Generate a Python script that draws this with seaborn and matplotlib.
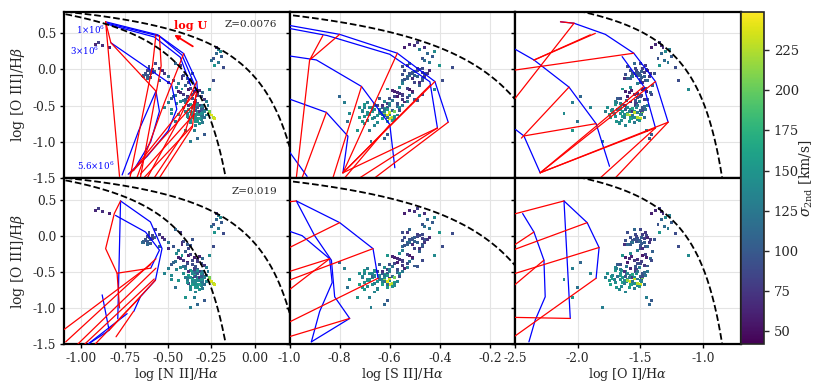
"""
BPT diagrams (NII, SII, OI) with photoionisation model grids for two
metallicities, spaxels coloured by the second-component velocity dispersion.
Output: out.png
"""

import matplotlib
matplotlib.use('Agg')
import matplotlib.pyplot as plt
import numpy as np
import pandas as pd
import seaborn as sns

# ---- spaxel line ratios (log) and sigma_2nd [km/s] ----
LOG_N2 = [-0.63, -0.62, -0.61, -0.64, -0.60, -0.62, -0.59, -0.63, -0.58, -0.61, -0.65, -0.60,
          -0.55, -0.52, -0.50, -0.47, -0.44, -0.42, -0.40, -0.45, -0.38, -0.53,
          -0.22, -0.20, -0.24, -0.21, -0.23, -0.19, -0.25, -0.18,
          -0.92, -0.88, -0.84, -0.90,
          -0.44, -0.41, -0.38, -0.36, -0.33, -0.40, -0.35, -0.31, -0.43, -0.37,
          -0.30, -0.39, -0.34, -0.42, -0.29, -0.32, -0.46, -0.36, -0.28, -0.48,
          -0.36, -0.34, -0.33, -0.35, -0.32, -0.37, -0.31, -0.34, -0.38, -0.30,
          -0.33, -0.36, -0.35, -0.32, -0.29, -0.37, -0.34, -0.31, -0.39, -0.33,
          -0.35, -0.30, -0.36, -0.32, -0.34, -0.41, -0.38, -0.28, -0.35, -0.33,
          -0.37, -0.31, -0.40, -0.36, -0.32, -0.34, -0.30, -0.38, -0.35, -0.33,
          -0.26, -0.25, -0.24, -0.27, -0.23, -0.26,
          -0.35, -0.33, -0.37, -0.29, -0.50, -0.48, -0.46, -0.40, -0.47, -0.52,
          -0.26, -0.24, -0.21, -0.22,
          -0.41, -0.43, -0.39, -0.57, -0.55, -0.36,
          -0.31, -0.29, -0.33, -0.36, -0.30, -0.34, -0.37, -0.31, -0.35, -0.28,
          -0.39, -0.32, -0.36, -0.34, -0.30, -0.33, -0.38, -0.35, -0.31, -0.29,
          -0.62, -0.60, -0.63, -0.59, -0.61, -0.64, -0.42, -0.46, -0.50, -0.37,
          -0.43, -0.39, -0.35, -0.41, -0.33, -0.45, -0.48, -0.44, -0.40, -0.27]
LOG_S2 = [-0.52, -0.50, -0.54, -0.49, -0.51, -0.53, -0.48, -0.55, -0.50, -0.47, -0.52, -0.46,
          -0.49, -0.45, -0.53, -0.47, -0.55, -0.51, -0.48, -0.56, -0.50, -0.44,
          -0.45, -0.42, -0.47, -0.44, -0.40, -0.43, -0.46, -0.35,
          -0.52, -0.50, -0.54, -0.49,
          -0.58, -0.55, -0.52, -0.60, -0.56, -0.50, -0.54, -0.58, -0.62, -0.53,
          -0.51, -0.57, -0.49, -0.61, -0.55, -0.59, -0.52, -0.47, -0.53, -0.64,
          -0.66, -0.64, -0.62, -0.68, -0.60, -0.70, -0.63, -0.58, -0.66, -0.61,
          -0.67, -0.63, -0.71, -0.65, -0.59, -0.69, -0.61, -0.66, -0.64, -0.57,
          -0.62, -0.68, -0.60, -0.70, -0.66, -0.72, -0.59, -0.62, -0.65, -0.63,
          -0.67, -0.58, -0.69, -0.72, -0.64, -0.60, -0.65, -0.61, -0.57, -0.69,
          -0.60, -0.61, -0.59, -0.62, -0.60, -0.58,
          -0.68, -0.62, -0.675, -0.61, -0.78, -0.76, -0.77, -0.73, -0.80, -0.70,
          -0.42, -0.39, -0.48, -0.46,
          -0.50, -0.53, -0.47, -0.52, -0.55, -0.46,
          -0.56, -0.64, -0.66, -0.69, -0.62, -0.59, -0.65, -0.67, -0.61, -0.57,
          -0.70, -0.63, -0.67, -0.56, -0.60, -0.71, -0.63, -0.58, -0.69, -0.61,
          -0.49, -0.53, -0.51, -0.47, -0.55, -0.50, -0.46, -0.52, -0.48, -0.54,
          -0.57, -0.53, -0.51, -0.59, -0.55, -0.60, -0.66, -0.68, -0.71, -0.55]
LOG_O1 = [-1.55, -1.50, -1.58, -1.47, -1.52, -1.60, -1.45, -1.62, -1.49, -1.54, -1.57, -1.51,
          -1.48, -1.42, -1.56, -1.46, -1.52, -1.63, -1.40, -1.58, -1.50, -1.44,
          -1.33, -1.30, -1.36, -1.28, -1.35, -1.25, -1.31, -1.22,
          -1.38, -1.33, -1.41, -1.35,
          -1.62, -1.55, -1.48, -1.66, -1.52, -1.44, -1.58, -1.50, -1.70, -1.46,
          -1.42, -1.60, -1.54, -1.64, -1.47, -1.57, -1.49, -1.41, -1.51, -1.68,
          -1.62, -1.58, -1.55, -1.66, -1.60, -1.70, -1.52, -1.64, -1.68, -1.48,
          -1.57, -1.61, -1.73, -1.54, -1.50, -1.65, -1.59, -1.63, -1.71, -1.53,
          -1.56, -1.60, -1.49, -1.67, -1.62, -1.76, -1.55, -1.46, -1.58, -1.61,
          -1.64, -1.52, -1.69, -1.74, -1.57, -1.50, -1.55, -1.66, -1.47, -1.63,
          -1.55, -1.58, -1.52, -1.60, -1.50, -1.48,
          -1.45, -1.43, -1.80, -1.41, -2.04, -2.11, -2.00, -2.04, -1.98, -1.90,
          -1.12, -1.20, -1.27, -1.32,
          -1.53, -1.46, -1.58, -1.50, -1.44, -1.39,
          -1.53, -1.59, -1.65, -1.72, -1.56, -1.51, -1.67, -1.62, -1.54, -1.49,
          -1.70, -1.58, -1.60, -1.48, -1.52, -1.69, -1.63, -1.55, -1.66, -1.47,
          -1.53, -1.49, -1.56, -1.47, -1.60, -1.51, -1.43, -1.55, -1.48, -1.50,
          -1.59, -1.52, -1.45, -1.61, -1.49, -1.66, -1.72, -1.75, -1.78, -1.44]
LOG_O3 = [-0.05, -0.08, -0.02, -0.10, -0.04, -0.12, 0.00, -0.07, -0.03, 0.02, -0.09, -0.06,
          0.02, -0.05, -0.10, -0.15, -0.20, -0.12, -0.22, -0.25, -0.18, -0.02,
          0.22, 0.25, 0.15, 0.10, 0.05, 0.18, 0.12, 0.03,
          0.35, 0.33, 0.30, 0.37,
          -0.30, -0.35, -0.28, -0.40, -0.33, -0.42, -0.45, -0.38, -0.44, -0.26,
          -0.32, -0.37, -0.43, -0.27, -0.41, -0.29, -0.36, -0.34, -0.44, -0.40,
          -0.50, -0.55, -0.58, -0.52, -0.62, -0.48, -0.60, -0.65, -0.56, -0.53,
          -0.68, -0.63, -0.57, -0.50, -0.57, -0.70, -0.72, -0.66, -0.61, -0.47,
          -0.54, -0.61, -0.59, -0.75, -0.78, -0.52, -0.66, -0.55, -0.64, -0.53,
          -0.58, -0.69, -0.46, -0.67, -0.58, -0.62, -0.73, -0.55, -0.51, -0.62,
          -0.60, -0.63, -0.66, -0.62, -0.68, -0.58,
          -0.85, -0.95, -1.00, -0.90, -0.46, -0.61, -0.72, -0.85, -0.37, -0.52,
          -0.28, -0.15, 0.28, 0.30,
          -0.08, 0.05, -0.12, 0.08, -0.15, -0.05,
          -0.52, -0.58, -0.48, -0.60, -0.64, -0.70, -0.74, -0.56, -0.47, -0.63,
          -0.65, -0.68, -0.53, -0.57, -0.50, -0.72, -0.50, -0.66, -0.61, -0.67,
          -0.01, -0.11, -0.06, -0.04, 0.04, -0.08, -0.10, 0.08, -0.18, -0.14,
          -0.32, -0.39, -0.30, -0.43, -0.36, -0.47, -0.55, -0.62, -0.58, -0.50]
SIGMA_2ND = [95, 100, 90, 105, 98, 110, 85, 92, 102, 88, 115, 96,
             80, 75, 120, 95, 130, 70, 105, 140, 85, 65,
             110, 140, 95, 125, 150, 100, 115, 90,
             65, 70, 60, 80,
             60, 75, 55, 90, 70, 100, 65, 85, 140, 80,
             110, 58, 95, 150, 75, 62, 120, 88, 130, 100,
             140, 135, 150, 145, 130, 155, 125, 160, 120, 95,
             145, 135, 150, 80, 110, 140, 155, 130, 125, 90,
             165, 140, 70, 150, 135, 145, 85, 120, 145, 100,
             150, 135, 130, 160, 75, 140, 125, 155, 110, 140,
             230, 240, 225, 215, 235, 205,
             130, 110, 130, 100, 130, 140, 120, 150, 110, 135,
             140, 90, 130, 70,
             90, 75, 100, 85, 110, 95,
             140, 130, 145, 155, 120, 150, 140, 100, 80, 135,
             145, 160, 135, 90, 125, 150, 70, 140, 145, 115,
             85, 100, 95, 80, 90, 105, 75, 110, 70, 95,
             65, 90, 60, 120, 80, 135, 140, 150, 130, 125]

SIGMA_RANGE = (42, 249)

# ---- demarcation curves: y = a / (x - b) + c ----
KAUFFMANN_N2 = (0.61, 0.05, 1.30)
KEWLEY_N2 = (0.61, 0.47, 1.19)
KEWLEY_S2 = (0.72, 0.32, 1.30)
KEWLEY_O1 = (0.73, -0.59, 1.33)

# ---- model grids, Z = 0.0076 ----
N2_LOWZ_BLUE = [
    [(-0.86, 0.66), (-0.56, 0.48), (-0.41, 0.22), (-0.335, -0.17), (-0.33, -0.30)],
    [(-0.85, 0.64), (-0.55, 0.46), (-0.42, 0.20), (-0.35, -0.20), (-0.34, -0.32)],
    [(-0.84, 0.62), (-0.58, 0.45), (-0.43, 0.17), (-0.37, -0.22)],
    [(-0.83, 0.37), (-0.48, -0.21), (-0.45, -0.55), (-0.50, -0.85), (-0.62, -1.20), (-0.73, -1.45)],
    [(-0.765, -1.46), (-0.67, -0.85), (-0.57, -0.30), (-0.55, -0.58), (-0.60, -1.00), (-0.70, -1.40)],
]
N2_LOWZ_RED = [
    [(-0.86, 0.66), (-0.78, -1.48)],
    [(-0.86, 0.66), (-0.83, 0.37), (-0.57, -0.30)],
    [(-0.57, 0.48), (-0.59, 0.05), (-0.72, -1.50)],
    [(-0.55, 0.47), (-0.54, 0.05), (-0.66, -1.50)],
    [(-0.41, 0.22), (-0.52, -0.45), (-0.68, -1.50)],
    [(-0.335, -0.17), (-0.45, -0.75), (-0.62, -1.50)],
    [(-0.33, -0.30), (-0.40, -0.85), (-0.58, -1.50)],
    [(-0.34, -0.35), (-0.36, -0.80), (-0.55, -1.50)],
    [(-0.72, -1.45), (-0.33, -0.28)],
    [(-0.70, -1.40), (-0.34, -0.45)],
    [(-0.66, -1.45), (-0.35, -0.62)],
    [(-0.64, -1.50), (-0.36, -0.78)],
]
S2_LOWZ_BLUE = [
    [(-1.05, 0.64), (-0.80, 0.486), (-0.57, 0.225), (-0.42, -0.167), (-0.367, -0.73)],
    [(-1.05, 0.60), (-0.85, 0.47), (-0.60, 0.21), (-0.44, -0.17), (-0.41, -0.81)],
    [(-1.00, 0.187), (-0.893, 0.132), (-0.713, -0.235), (-0.60, -0.763), (-0.58, -1.36)],
    [(-1.00, -0.41), (-0.853, -0.594), (-0.767, -0.924), (-0.787, -1.43)],
    [(-1.05, -0.90), (-0.93, -1.48)],
]
S2_LOWZ_RED = [
    [(-0.867, 0.47), (-0.92, 0.13), (-0.80, 0.486)],
    [(-0.92, 0.13), (-0.973, -1.50)],
    [(-0.57, 0.225), (-0.787, -1.43)],
    [(-0.787, -1.43), (-0.42, -0.167)],
    [(-0.787, -1.43), (-0.44, -0.22)],
    [(-0.787, -1.43), (-0.41, -0.81)],
    [(-0.713, -0.235), (-0.827, -1.50)],
    [(-0.367, -0.73), (-0.66, -1.50)],
    [(-0.41, -0.81), (-0.72, -1.50)],
    [(-0.853, -0.594), (-0.95, -1.50)],
    [(-0.60, -0.763), (-0.78, -1.50)],
]
O1_LOWZ_BLUE = [
    [(-2.138, 0.66), (-2.03, 0.64), (-1.78, 0.486), (-1.553, 0.225), (-1.38, -0.167), (-1.279, -0.73)],
    [(-2.52, 0.30), (-2.35, 0.132), (-2.07, -0.244), (-1.854, -0.75), (-1.747, -1.34)],
    [(-1.646, 0.178), (-1.473, -0.235), (-1.38, -0.81)],
    [(-2.497, -0.83), (-2.43, -0.92), (-2.30, -1.43)],
]
O1_LOWZ_RED = [
    [(-2.138, 0.66), (-2.03, 0.64)],
    [(-2.03, 0.64), (-2.50, -0.40)],
    [(-2.35, 0.13), (-1.90, 0.48)],
    [(-2.35, 0.13), (-1.86, 0.50)],
    [(-2.55, -0.02), (-1.553, 0.225)],
    [(-2.30, -1.43), (-1.38, -0.167)],
    [(-2.30, -1.43), (-1.279, -0.73)],
    [(-2.30, -1.43), (-1.473, -0.235)],
    [(-2.30, -1.43), (-1.38, -0.81)],
    [(-1.82, -1.50), (-1.38, -0.81)],
    [(-1.70, -1.50), (-1.279, -0.73)],
    [(-2.07, -0.244), (-2.45, -0.95)],
    [(-2.43, -0.92), (-1.854, -0.75)],
]

# ---- model grids, Z = 0.019 ----
N2_HIGHZ_BLUE = [
    [(-0.774, 0.48), (-0.602, 0.19), (-0.535, -0.178), (-0.573, -0.616), (-0.66, -0.847), (-0.698, -1.05)],
    [(-0.774, 0.48), (-0.79, -1.15)],
    [(-0.803, 0.28), (-0.63, 0.05), (-0.55, -0.20), (-0.60, -0.45)],
    [(-0.88, -0.82), (-0.84, -1.31), (-0.96, -1.50)],
    [(-0.956, -1.49), (-0.736, -1.08)],
]
N2_HIGHZ_RED = [
    [(-0.774, 0.48), (-0.81, 0.306), (-0.86, -0.18), (-0.794, -0.52), (-0.78, -1.00)],
    [(-1.09, -1.47), (-0.57, -0.32)],
    [(-1.02, -1.50), (-0.57, -0.45)],
    [(-0.98, -1.50), (-0.58, -0.60)],
    [(-0.92, -1.50), (-0.66, -0.85)],
    [(-0.84, -1.31), (-0.573, -0.616)],
    [(-0.80, -1.40), (-0.70, -1.05)],
    [(-0.794, -0.52), (-0.60, -0.45)],
    [(-1.10, -1.30), (-0.60, -0.40)],
]
S2_HIGHZ_BLUE = [
    [(-0.973, 0.48), (-0.80, 0.18), (-0.667, -0.18), (-0.647, -0.59)],
    [(-0.973, 0.48), (-0.90, 0.00), (-0.833, -0.34), (-0.82, -0.847), (-0.76, -1.146), (-0.913, -1.47)],
    [(-1.00, 0.06), (-0.95, 0.00), (-0.84, -0.32), (-0.83, -0.65), (-0.88, -1.05), (-0.913, -1.47)],
]
S2_HIGHZ_RED = [
    [(-1.05, 0.45), (-0.973, 0.48)],
    [(-1.05, -0.25), (-0.80, 0.18)],
    [(-1.05, -0.68), (-0.667, -0.18)],
    [(-1.05, -0.88), (-0.84, -0.32)],
    [(-1.05, -0.55), (-0.84, -0.32)],
    [(-1.05, -1.28), (-0.647, -0.59)],
    [(-1.05, -1.45), (-0.76, -1.146)],
]
O1_HIGHZ_BLUE = [
    [(-2.11, 0.48), (-1.925, 0.18), (-1.83, -0.164), (-1.854, -0.59)],
    [(-2.11, 0.48), (-2.06, -1.146)],
    [(-2.44, 0.306), (-2.35, 0.05), (-2.27, -0.34), (-2.26, -0.847), (-2.34, -1.17), (-2.39, -1.47)],
]
O1_HIGHZ_RED = [
    [(-2.55, 0.28), (-2.11, 0.48)],
    [(-2.55, -0.18), (-2.35, 0.05)],
    [(-2.55, -0.22), (-1.925, 0.18)],
    [(-2.55, -0.55), (-1.83, -0.164)],
    [(-2.55, -0.75), (-2.27, -0.34)],
    [(-2.55, -1.13), (-2.06, -1.146)],
    [(-2.55, -1.45), (-1.854, -0.59)],
]

# ---- axes ----
X_LIMS = [(-1.1, 0.2), (-1.0, -0.1), (-2.5, -0.7)]
X_TICKS = [[-1.0, -0.75, -0.5, -0.25, 0.0], [-1.0, -0.8, -0.6, -0.4, -0.2], [-2.5, -2.0, -1.5, -1.0]]
X_TICKLABELS = [['-1.00', '-0.75', '-0.50', '-0.25', '0.00'],
                ['-1.0', '-0.8', '-0.6', '-0.4', '-0.2'],
                ['-2.5', '-2.0', '-1.5', '-1.0']]
X_LABELS = [r'log [N II]/H$\alpha$', r'log [S II]/H$\alpha$', r'log [O I]/H$\alpha$']
Y_LIM = (-1.5, 0.8)
Y_TICKS = [0.5, 0.0, -0.5, -1.0, -1.5]
Y_TICKLABELS = ['0.5', '0.0', '-0.5', '-1.0', '-1.5']
CBAR_TICKS = [50, 75, 100, 125, 150, 175, 200, 225]


def draw_curve(ax, coeffs, xmin, xmax):
    a, b, c = coeffs
    x = np.linspace(xmin, min(xmax, b - 0.01), 400)
    ax.plot(x, a / (x - b) + c, ls='--', color='black', lw=1.3, zorder=4)


def draw_grid(ax, blue, red):
    for line in blue:
        xs, ys = zip(*line)
        ax.plot(xs, ys, color='#0000ff', lw=0.9, zorder=3)
    for line in red:
        xs, ys = zip(*line)
        ax.plot(xs, ys, color='#ff0000', lw=0.9, zorder=3)


def main():
    sns.set_style('ticks')
    plt.rcParams['font.family'] = ['DejaVu Serif']
    plt.rcParams['mathtext.fontset'] = 'dejavuserif'
    plt.rcParams['axes.unicode_minus'] = False

    df = pd.DataFrame({'n2': LOG_N2, 's2': LOG_S2, 'o1': LOG_O1,
                       'o3': LOG_O3, 'sig': SIGMA_2ND})
    xcols = ['n2', 's2', 'o1']

    fig = plt.figure(figsize=(8.3, 3.83), dpi=100)
    gs = fig.add_gridspec(2, 3, left=0.0771, right=0.8924, bottom=0.1018,
                          top=0.9695, wspace=0, hspace=0)

    grids = [[(N2_LOWZ_BLUE, N2_LOWZ_RED), (S2_LOWZ_BLUE, S2_LOWZ_RED), (O1_LOWZ_BLUE, O1_LOWZ_RED)],
             [(N2_HIGHZ_BLUE, N2_HIGHZ_RED), (S2_HIGHZ_BLUE, S2_HIGHZ_RED), (O1_HIGHZ_BLUE, O1_HIGHZ_RED)]]

    axes = [[None] * 3 for _ in range(2)]
    for r in range(2):
        for c in range(3):
            ax = fig.add_subplot(gs[r, c])
            axes[r][c] = ax
            xmin, xmax = X_LIMS[c]

            sns.scatterplot(data=df, x=xcols[c], y='o3', hue='sig', palette='viridis',
                            hue_norm=SIGMA_RANGE, s=4.5, marker='s', linewidth=0,
                            legend=False, ax=ax, zorder=2)
            draw_grid(ax, *grids[r][c])

            if c == 0:
                draw_curve(ax, KAUFFMANN_N2, xmin - 0.1, xmax)
                draw_curve(ax, KEWLEY_N2, xmin - 0.1, xmax)
            elif c == 1:
                draw_curve(ax, KEWLEY_S2, xmin - 0.1, xmax)
            else:
                draw_curve(ax, KEWLEY_O1, xmin - 0.1, xmax)

            ax.set_xlim(xmin, xmax)
            ax.set_ylim(*Y_LIM)
            ax.set_xticks(X_TICKS[c])
            ax.set_yticks(Y_TICKS)
            ax.grid(True, color='#e4e4e4', lw=0.8, zorder=0)
            ax.set_axisbelow(True)
            for sp in ax.spines.values():
                sp.set_linewidth(1.6)
                sp.set_color('black')
            ax.tick_params(labelsize=8.8, width=1, length=3, pad=2.5, color='black')

            if r == 1:
                ax.set_xticklabels(X_TICKLABELS[c])
                ax.set_xlabel(X_LABELS[c], fontsize=9.2, labelpad=1)
            else:
                ax.set_xticklabels([])
                ax.set_xlabel('')
            if c == 0:
                ax.set_yticklabels(Y_TICKLABELS)
                ax.set_ylabel(r'log [O III]/H$\beta$', fontsize=10, labelpad=4)
            else:
                ax.set_yticklabels([])
                ax.set_ylabel('')

    # annotations
    ax = axes[0][0]
    ax.text(0.945, 0.925, 'Z=0.0076', transform=ax.transAxes, ha='right', va='center', fontsize=7.5)
    ax.text(-0.371, 0.605, 'log U', color='red', fontweight='bold', fontsize=8,
            ha='center', va='center')
    ax.annotate('', xy=(-0.478, 0.50), xytext=(-0.344, 0.30),
                arrowprops=dict(arrowstyle='-|>', color='red', lw=1.3, mutation_scale=7))
    ax.text(-1.032, 0.555, r'1$\times$10$^6$', color='#0000ff', fontsize=6.2, va='center')
    ax.text(-1.066, 0.26, r'3$\times$10$^6$', color='#0000ff', fontsize=6.2, va='center')
    ax.text(-1.023, -1.34, r'5.6$\times$10$^6$', color='#0000ff', fontsize=6.2, va='center')
    axes[1][0].text(0.945, 0.92, 'Z=0.019', transform=axes[1][0].transAxes,
                    ha='right', va='center', fontsize=7.5)

    # colour bar
    cax = fig.add_axes([0.8930, 0.1018, 0.0277, 0.8677])
    sm = plt.cm.ScalarMappable(norm=plt.Normalize(*SIGMA_RANGE), cmap='viridis')
    cb = fig.colorbar(sm, cax=cax, ticks=CBAR_TICKS)
    cb.ax.tick_params(labelsize=9.5, width=1, length=3.5)
    cb.outline.set_linewidth(1.2)
    cb.set_label(r'$\sigma_{\rm 2nd}$ [km/s]', fontsize=10, labelpad=-1)

    fig.savefig('out.png', dpi=100)
    plt.close(fig)


if __name__ == '__main__':
    main()
